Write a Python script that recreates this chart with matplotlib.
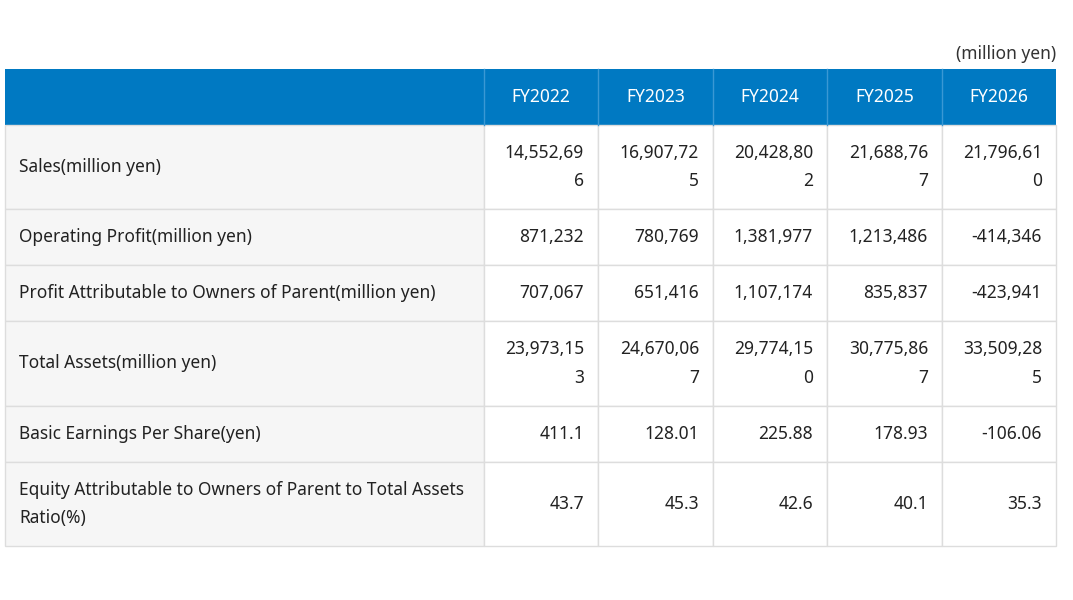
import matplotlib.pyplot as plt
from matplotlib.patches import Rectangle

plt.rcParams['font.family'] = ['Noto Sans', 'DejaVu Sans']

years = ['FY2022', 'FY2023', 'FY2024', 'FY2025', 'FY2026']
row_labels = ['Sales(million yen)', 'Operating Profit(million yen)',
              'Profit Attributable to Owners of Parent(million yen)',
              'Total Assets(million yen)', 'Basic Earnings Per Share(yen)',
              'Equity Attributable to Owners of Parent to Total Assets\nRatio(%)']
sales = ['14,552,696', '16,907,725', '20,428,802', '21,688,767', '21,796,610']
op_profit = ['871,232', '780,769', '1,381,977', '1,213,486', '-414,346']
net_profit = ['707,067', '651,416', '1,107,174', '835,837', '-423,941']
assets = ['23,973,153', '24,670,067', '29,774,150', '30,775,867', '33,509,285']
eps = ['411.1', '128.01', '225.88', '178.93', '-106.06']
equity_ratio = ['43.7', '45.3', '42.6', '40.1', '35.3']
rows = [sales, op_profit, net_profit, assets, eps, equity_ratio]

col_x = [5, 484, 598, 713, 827, 942, 1056]
row_y = [69, 125, 209, 265, 321, 406, 462, 546]
border = '#dddddd'
fs = 12.5

fig = plt.figure(figsize=(10.73, 6), dpi=100)
ax = fig.add_axes([0, 0, 1, 1])
ax.set_xlim(0, 1073)
ax.set_ylim(600, 0)
ax.axis('off')

ax.text(1056, 54, '(million yen)', ha='right', va='center', fontsize=fs, color='#333333')

# header
ax.add_patch(Rectangle((col_x[0], row_y[0]), col_x[-1] - col_x[0], row_y[1] - row_y[0],
                       facecolor='#0079c2', edgecolor='none'))
for j, y in enumerate(years):
    ax.plot([col_x[j + 1]] * 2, [row_y[0], row_y[1]], color='#3a98d4', lw=1)
    ax.text((col_x[j + 1] + col_x[j + 2]) / 2, (row_y[0] + row_y[1]) / 2, y,
            ha='center', va='center', fontsize=fs, color='white', weight='bold')

for i, (lab, vals) in enumerate(zip(row_labels, rows)):
    top, bot = row_y[i + 1], row_y[i + 2]
    mid = (top + bot) / 2
    ax.add_patch(Rectangle((col_x[0], top), col_x[1] - col_x[0], bot - top,
                           facecolor='#f6f6f6', edgecolor=border, lw=1))
    ax.text(col_x[0] + 14, mid, lab, ha='left', va='center', fontsize=fs,
            weight='bold', color='#222222', linespacing=1.75)
    for j, v in enumerate(vals):
        ax.add_patch(Rectangle((col_x[j + 1], top), col_x[j + 2] - col_x[j + 1], bot - top,
                               facecolor='white', edgecolor=border, lw=1))
        txt = v if len(v) <= 9 else v[:9] + '\n' + v[9:]
        ax.text(col_x[j + 2] - 14, mid, txt, ha='right', va='center', fontsize=fs,
                color='#222222', linespacing=1.75, multialignment='right')

fig.savefig('out.png', dpi=100)
